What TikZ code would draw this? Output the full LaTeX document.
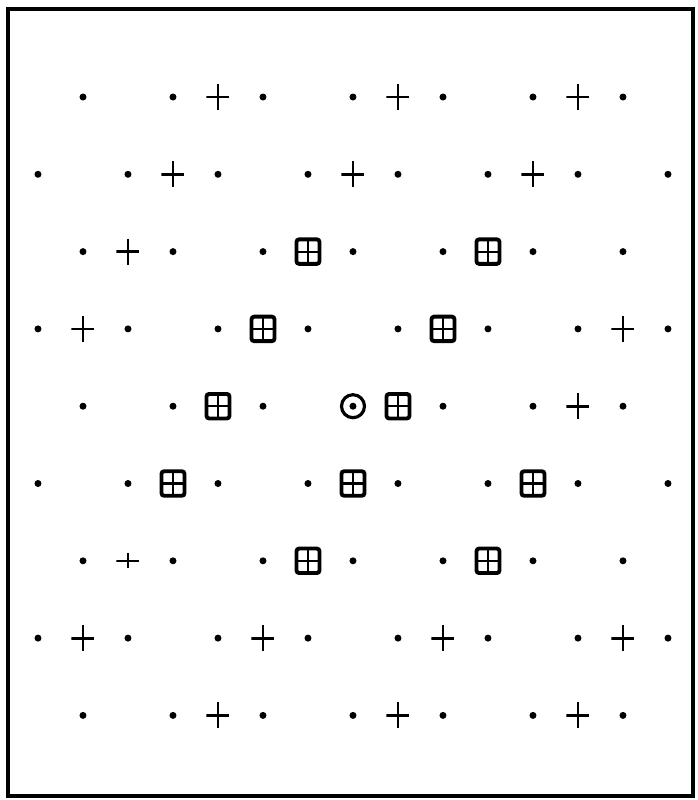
\documentclass[tikz,border=0pt]{standalone}
\usetikzlibrary{positioning}

\begin{document}
\begin{tikzpicture}[
    x=0.9cm, y=-1.546cm,
    pt/.style={circle, fill, inner sep=0pt, minimum size=0.14cm},
    cross/.style={inner sep=0pt, minimum width=0.46cm, minimum height=0.52cm,
                  path picture={\draw[line width=1.6pt]
                      (path picture bounding box.north) -- (path picture bounding box.south)
                      (path picture bounding box.west) -- (path picture bounding box.east);}},
    thincross/.style={cross, minimum height=0.3cm,
                  path picture={\draw[line width=0.8pt]
                      (path picture bounding box.north) -- (path picture bounding box.south)
                      (path picture bounding box.west) -- (path picture bounding box.east);}},
    cell/.style={draw, line width=2.2pt, rounded corners=1.5pt, inner sep=0pt,
                 minimum width=0.46cm, minimum height=0.49cm,
                 path picture={\draw[line width=1.2pt]
                      (path picture bounding box.north) -- (path picture bounding box.south)
                      (path picture bounding box.west) -- (path picture bounding box.east);}},
    origin/.style={circle, draw, line width=1.8pt, inner sep=0pt, minimum size=0.46cm,
                 path picture={\fill (path picture bounding box.center) circle (2pt);}},
    frame/.style={line width=2pt}
]
    \useasboundingbox (-0.8444,-1.2549) rectangle (14.667,9.0944);
    \draw[frame] (-0.667,-1.138) rectangle (14.556,9.043);

    % lattice points
    \foreach \r in {0,2,6,8}
        \foreach \c in {1,3,...,13}
            \node[pt] (d\r-\c) at (\c,\r) {};
    \foreach \c in {1,3,5,9,11,13}
        \node[pt] (d4-\c) at (\c,4) {};
    \foreach \r in {1,3,5,7}
        \foreach \c in {0,2,...,14}
            \node[pt] (d\r-\c) at (\c,\r) {};

    % row 1
    \node[cross] (s0-4) at (4,0) {};
    \node[cross] (s0-8) at (8,0) {};
    \node[cross] (s0-12) at (12,0) {};
    % row 2
    \node[cross] (s1-3) at (3,1) {};
    \node[cross] (s1-7) at (7,1) {};
    \node[cross] (s1-11) at (11,1) {};
    % row 3
    \node[cross] (s2-2) at (2,2) {};
    \node[cell] (s2-6) at (6,2) {};
    \node[cell] (s2-10) at (10,2) {};
    % row 4
    \node[cross] (s3-1) at (1,3) {};
    \node[cell] (s3-5) at (5,3) {};
    \node[cell] (s3-9) at (9,3) {};
    \node[cross] (s3-13) at (13,3) {};
    % row 5
    \node[cell] (s4-4) at (4,4) {};
    \node[origin] (o) at (7,4) {};
    \node[cell] (s4-8) at (8,4) {};
    \node[cross] (s4-12) at (12,4) {};
    % row 6
    \node[cell] (s5-3) at (3,5) {};
    \node[cell] (s5-7) at (7,5) {};
    \node[cell] (s5-11) at (11,5) {};
    % row 7
    \node[thincross] (s6-2) at (2,6) {};
    \node[cell] (s6-6) at (6,6) {};
    \node[cell] (s6-10) at (10,6) {};
    % row 8
    \node[cross] (s7-1) at (1,7) {};
    \node[cross] (s7-5) at (5,7) {};
    \node[cross] (s7-9) at (9,7) {};
    \node[cross] (s7-13) at (13,7) {};
    % row 9
    \node[cross] (s8-4) at (4,8) {};
    \node[cross] (s8-8) at (8,8) {};
    \node[cross] (s8-12) at (12,8) {};
\end{tikzpicture}
\end{document}
